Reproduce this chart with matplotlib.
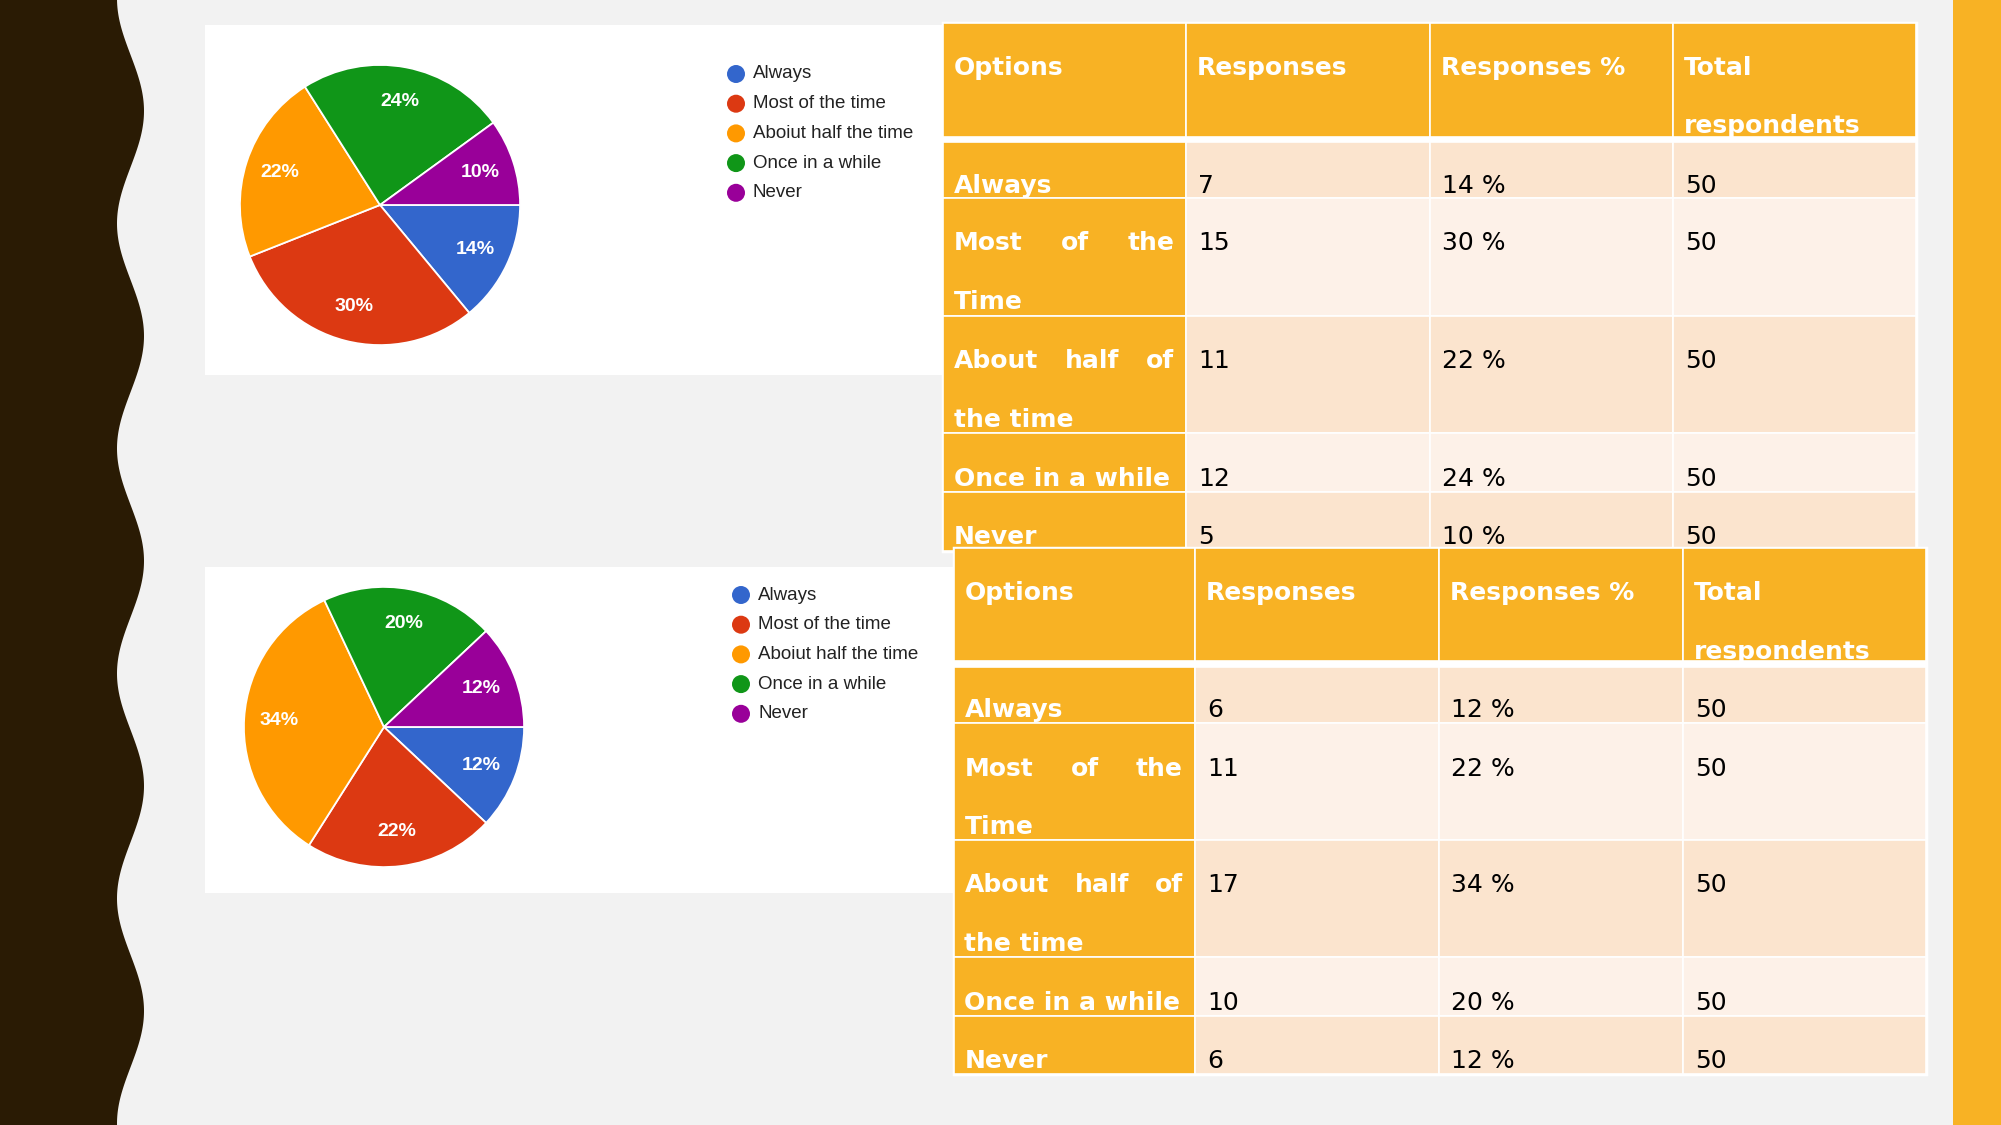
import matplotlib
matplotlib.use('Agg')
import matplotlib.pyplot as plt
from matplotlib.patches import Rectangle, Polygon, Circle
import numpy as np

# Survey data
legend_labels = ['Always', 'Most of the time', 'Aboiut half the time', 'Once in a while', 'Never']
option_lines = [['Always'], ['Most of the', 'Time'], ['About half of', 'the time'],
                ['Once in a while'], ['Never']]
header_lines = [['Options'], ['Responses'], ['Responses %'], ['Total', 'respondents']]
responses_1 = [7, 15, 11, 12, 5]
responses_2 = [6, 11, 17, 10, 6]
total_respondents = 50

pie_colors = ['#3366CC', '#DC3912', '#FF9900', '#109618', '#990099']
orange = '#F8B224'
peach_dark = '#FBE4CE'
peach_light = '#FDF1E8'
bg = '#F2F2F2'

W, H = 2001, 1125
fig = plt.figure(figsize=(W / 100, H / 100), dpi=100)
fig.patch.set_facecolor(bg)
ax = fig.add_axes([0, 0, 1, 1])
ax.set_xlim(0, W)
ax.set_ylim(H, 0)
ax.axis('off')
renderer = fig.canvas.get_renderer()

# Wavy dark band on the left
yy = np.linspace(0, H, 600)
xx = 130.5 + 13.5 * np.cos(2 * np.pi * (yy - 111) / 225)
pts = [(0, 0)] + list(zip(xx, yy)) + [(0, H)]
ax.add_patch(Polygon(pts, closed=True, facecolor='#2A1B04', edgecolor='none', zorder=1))

# Orange bar on the right
ax.add_patch(Rectangle((1953, 0), W - 1953, H, facecolor=orange, edgecolor='none', zorder=1))

# White panels behind the pies
ax.add_patch(Rectangle((205, 25), 737, 350, facecolor='white', edgecolor='none', zorder=1))
ax.add_patch(Rectangle((205, 567), 748, 326, facecolor='white', edgecolor='none', zorder=1))


def draw_pie(values, cx, cy, r, lx, ly0, dy):
    pax = fig.add_axes([(cx - r) / W, 1 - (cy + r) / H, 2 * r / W, 2 * r / H])
    pax.pie(values, colors=pie_colors, startangle=0, counterclock=False,
            autopct=lambda p: '{:.0f}%'.format(p), pctdistance=0.75,
            wedgeprops=dict(edgecolor='white', linewidth=1.3),
            textprops=dict(color='white', fontsize=14, fontweight='bold',
                           family='Liberation Sans'))
    pax.set_xlim(-1.003, 1.003)
    pax.set_ylim(-1.003, 1.003)
    pax.set_aspect('auto')
    # legend
    for i, lab in enumerate(legend_labels):
        y = ly0 + i * dy
        ax.add_patch(Circle((lx, y), 9, facecolor=pie_colors[i], edgecolor='none', zorder=3))
        ax.text(lx + 17, y, lab, fontsize=13.5, family='Liberation Sans', color='#222222',
                va='center', ha='left', zorder=3)


draw_pie(responses_1, 380, 205, 140.5, 736, 74, 29.7)
draw_pie(responses_2, 384, 727, 140.5, 741, 595, 29.7)


def text_width(s, weight):
    t = ax.text(0, 0, s, fontsize=18, family='DejaVu Sans', fontweight=weight)
    w = t.get_window_extent(renderer).width
    t.remove()
    return w


def put_lines(lines, x0, x1, base, color, weight, justify, z):
    for k, line in enumerate(lines):
        y = base + k * 58.5
        words = line.split(' ')
        if justify and k < len(lines) - 1 and len(words) > 1:
            widths = [text_width(w_, weight) for w_ in words]
            gap = (x1 - x0 - sum(widths)) / (len(words) - 1)
            x = x0
            for w_, wd in zip(words, widths):
                ax.text(x, y, w_, fontsize=18, family='DejaVu Sans', fontweight=weight,
                        color=color, va='baseline', ha='left', zorder=z)
                x += wd + gap
        else:
            ax.text(x0, y, line, fontsize=18, family='DejaVu Sans', fontweight=weight,
                    color=color, va='baseline', ha='left', zorder=z)


def draw_table(cols, row_edges, text_tops, responses, z):
    # row_edges: header top, header bottom, body top, then body row bottoms
    tops = [row_edges[0]] + [row_edges[2]] + row_edges[3:-1]
    bots = [row_edges[1]] + row_edges[3:]
    ax.add_patch(Rectangle((cols[0], row_edges[0]), cols[-1] - cols[0], row_edges[-1] - row_edges[0],
                           facecolor='white', edgecolor='white', linewidth=2.5, zorder=z))
    for r in range(len(tops)):
        for c in range(4):
            if r == 0 or c == 0:
                fc = orange
            else:
                fc = peach_dark if r % 2 == 1 else peach_light
            ax.add_patch(Rectangle((cols[c], tops[r]), cols[c + 1] - cols[c], bots[r] - tops[r],
                                   facecolor=fc, edgecolor='white', linewidth=1.2, zorder=z))
    # header text
    for c in range(4):
        put_lines(header_lines[c], cols[c] + 11, cols[c + 1] - 12, text_tops[0] + 52,
                  'white', 'bold', False, z + 1)
    for i in range(5):
        base = text_tops[i + 1] + (56 if i == 0 else 52.5)
        put_lines(option_lines[i], cols[0] + 11, cols[1] - 12, base, 'white', 'bold', True, z + 1)
        pct = round(responses[i] / total_respondents * 100)
        vals = [str(responses[i]), '{} %'.format(pct), str(total_respondents)]
        for c in range(3):
            ax.text(cols[c + 1] + 12, base, vals[c], fontsize=18, family='DejaVu Sans',
                    color='black', va='baseline', ha='left', zorder=z + 1)


draw_table([943, 1186, 1430, 1673, 1916],
           [23, 137, 142, 198, 316, 433, 492, 551],
           [23, 137, 198, 316, 433, 492], responses_1, 3)
draw_table([953.5, 1195, 1439, 1683, 1926],
           [548, 661, 667, 723, 840, 957, 1016, 1074],
           [548, 661, 723, 840, 957, 1016], responses_2, 6)

fig.savefig('out.png', dpi=100, facecolor=bg)
